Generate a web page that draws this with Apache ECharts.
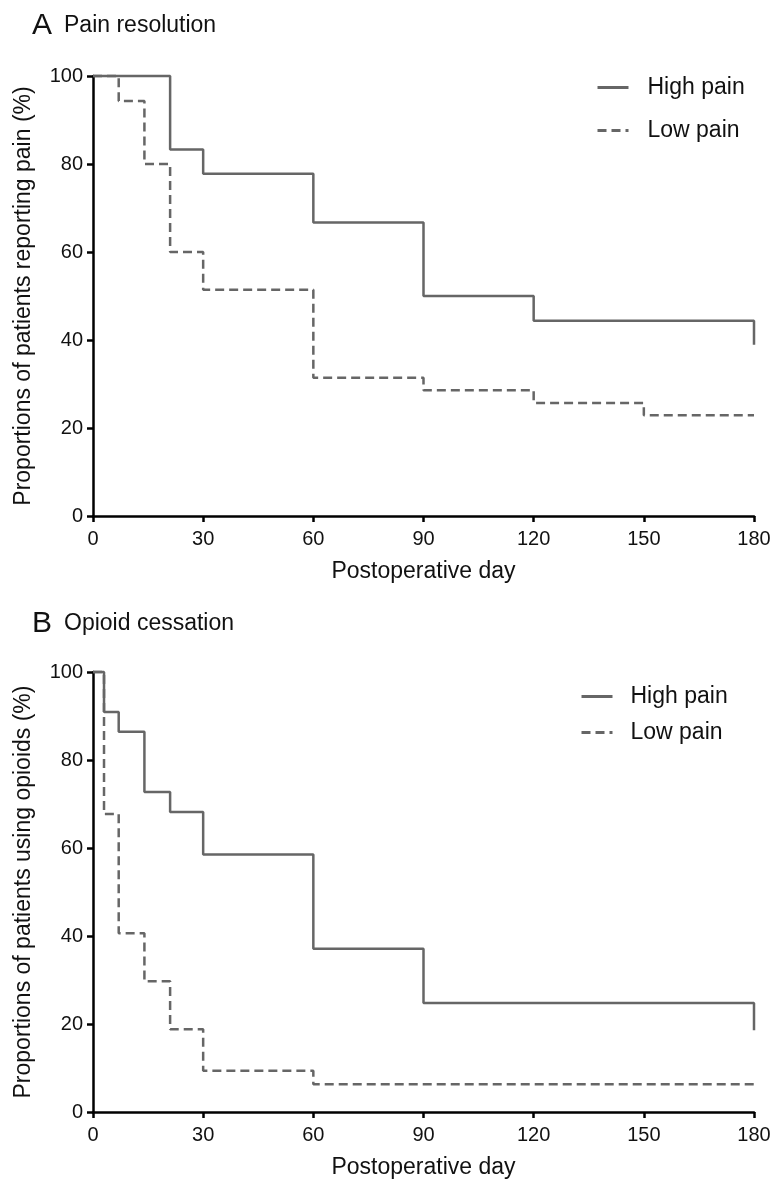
<!DOCTYPE html>
<html>
<head>
<meta charset="utf-8">
<script src="https://cdn.jsdelivr.net/npm/echarts@6/dist/echarts.min.js"></script>
<style>
html,body{margin:0;padding:0;background:#fff;}
#chart{width:776px;height:1182px;}
</style>
</head>
<body>
<div id="chart"></div>
<script>
// ---- Data ----
const xTicks = [0, 30, 60, 90, 120, 150, 180];
const yTicks = [0, 20, 40, 60, 80, 100];

// Panel A: Pain resolution
const painHighDays = [0, 21, 30, 60, 90, 120, 180, 180];
const painHighPct  = [100, 83.3, 77.8, 66.7, 50.0, 44.4, 44.4, 38.9];
const painLowDays  = [0, 7, 14, 21, 30, 60, 90, 120, 150, 180];
const painLowPct   = [100, 94.3, 80.0, 60.0, 51.4, 31.4, 28.6, 25.7, 22.9, 22.9];

// Panel B: Opioid cessation
const opioidHighDays = [0, 3, 7, 14, 21, 30, 60, 90, 180, 180];
const opioidHighPct  = [100, 90.9, 86.4, 72.7, 68.2, 58.5, 37.1, 24.8, 24.8, 18.6];
const opioidLowDays  = [0, 3, 7, 14, 21, 30, 60, 180];
const opioidLowPct   = [100, 67.7, 40.6, 29.7, 18.8, 9.4, 6.3, 6.3];

const seriesNames = ['High pain', 'Low pain'];
const panelTitles = [['A', 'Pain resolution'], ['B', 'Opioid cessation']];
const yNames = ['Proportions of patients reporting pain (%)', 'Proportions of patients using opioids (%)'];
const xName = 'Postoperative day';

// ---- Build ----
const zip = (a, b) => a.map((v, i) => [v, b[i]]);
const FONT = 'Liberation Sans, Arial, sans-serif';
const LINE = '#666666';
const TXT = '#111111';

function xAxis(idx) {
  return {
    type: 'value', gridIndex: idx, min: xTicks[0], max: xTicks[xTicks.length - 1], interval: 30,
    name: xName, nameLocation: 'middle', nameGap: 44,
    nameTextStyle: { fontFamily: FONT, fontSize: 23, color: TXT },
    axisLine: { lineStyle: { color: '#000', width: 2.5 } },
    axisTick: { length: 6, lineStyle: { color: '#000', width: 2.5 } },
    axisLabel: { margin: 13, fontFamily: FONT, fontSize: 20, color: TXT },
    splitLine: { show: false }
  };
}
function yAxis(idx) {
  return {
    type: 'value', gridIndex: idx, min: yTicks[0], max: yTicks[yTicks.length - 1], interval: 20,
    name: yNames[idx], nameLocation: 'middle', nameGap: 58, nameRotate: 90,
    nameTextStyle: { fontFamily: FONT, fontSize: 23, color: TXT },
    axisLine: { show: true, lineStyle: { color: '#000', width: 2.5 } },
    axisTick: { show: true, length: 6, lineStyle: { color: '#000', width: 2.5 } },
    axisLabel: { margin: 10, fontFamily: FONT, fontSize: 20, color: TXT },
    splitLine: { show: false }
  };
}
function line(name, idx, days, pct, dashed) {
  return {
    name: name, type: 'line', xAxisIndex: idx, yAxisIndex: idx,
    step: 'end', symbol: 'none', clip: false, z: dashed ? 2 : 3,
    data: zip(days, pct),
    lineStyle: { color: LINE, width: 2.5, type: dashed ? [9, 5] : 'solid' },
    itemStyle: { color: LINE }
  };
}
function legend(left, top, gap, pad) {
  return {
    data: seriesNames, orient: 'vertical', left: left, top: top, itemGap: gap, padding: 0,
    itemWidth: 31, itemHeight: 20, selectedMode: false,
    itemStyle: { opacity: 0 },
    lineStyle: { width: 3 },
    textStyle: { fontFamily: FONT, fontSize: 23, color: TXT, lineHeight: 20, padding: [0, 0, 0, pad] }
  };
}
function title(i, top) {
  return {
    left: 27, top: top, padding: 5,
    text: '{a|' + panelTitles[i][0] + '}{b|' + panelTitles[i][1] + '}',
    textStyle: {
      fontWeight: 'normal',
      rich: {
        a: { fontFamily: FONT, fontSize: 30, fontWeight: 'normal', color: TXT },
        b: { fontFamily: FONT, fontSize: 23, fontWeight: 'normal', color: TXT, padding: [0, 0, 0, 12] }
      }
    }
  };
}

const option = {
  backgroundColor: '#fff',
  animation: false,
  title: [title(0, 6), title(1, 604)],
  legend: [legend(596, 76, 20, 14), legend(580, 685, 13, 13)],
  grid: [
    { left: 93, right: 22, top: 76, height: 440 },
    { left: 93, right: 22, top: 672, height: 440 }
  ],
  xAxis: [xAxis(0), xAxis(1)],
  yAxis: [yAxis(0), yAxis(1)],
  series: [
    line(seriesNames[0], 0, painHighDays, painHighPct, false),
    line(seriesNames[1], 0, painLowDays, painLowPct, true),
    line(seriesNames[0], 1, opioidHighDays, opioidHighPct, false),
    line(seriesNames[1], 1, opioidLowDays, opioidLowPct, true)
  ]
};
const chart = echarts.init(document.getElementById('chart'), null, { renderer: 'canvas' });
chart.setOption(option);
</script>
</body>
</html>
